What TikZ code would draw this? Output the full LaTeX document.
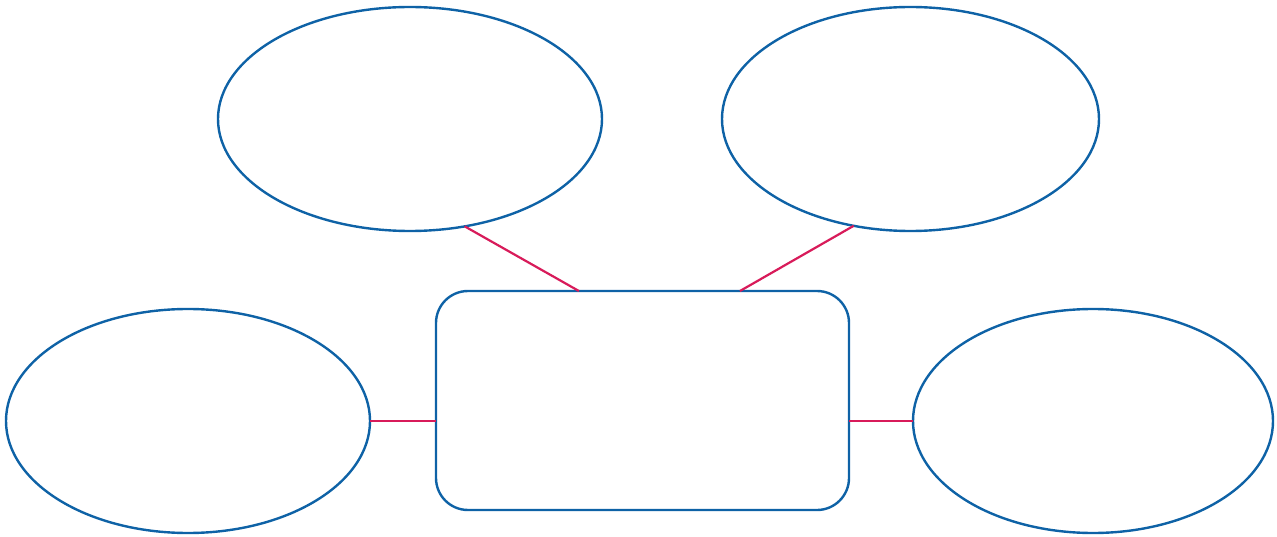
\documentclass[tikz,border=0pt]{standalone}
\usetikzlibrary{shapes.geometric,calc}
\definecolor{bblue}{HTML}{0E62A6}
\definecolor{ppink}{HTML}{D81B5A}
\begin{document}
\begin{tikzpicture}[x=1pt,y=-1pt,
  oval/.style={ellipse,draw=bblue,line width=2.4pt,inner sep=0pt,outer sep=0pt},
  hub/.style={rectangle,rounded corners=32pt,draw=bblue,line width=2.4pt,inner sep=0pt,outer sep=0pt,minimum width=413pt,minimum height=219pt},
  link/.style={draw=ppink,line width=2.2pt}]
\useasboundingbox (0,0) rectangle (1277,537);
\node[oval,minimum width=384pt,minimum height=224pt] (tl) at (410,119) {};
\node[oval,minimum width=377pt,minimum height=224pt] (tr) at (910.5,119) {};
\node[oval,minimum width=364pt,minimum height=224pt] (l) at (188,421) {};
\node[oval,minimum width=360pt,minimum height=224pt] (r) at (1093,421) {};
\node[hub] (c) at (642.5,400.5) {};
\coordinate (ctl) at ($(c.north west)!0.346!(c.north east)$);
\coordinate (ctr) at ($(c.north west)!0.736!(c.north east)$);
\coordinate (cl) at (c.west |- l.east);
\coordinate (cr) at (c.east |- r.west);
\draw[link] (tl.-63) -- (ctl);
\draw[link] (tr.-118) -- (ctr);
\draw[link] (l.east) -- (cl);
\draw[link] (r.west) -- (cr);
\end{tikzpicture}
\end{document}
